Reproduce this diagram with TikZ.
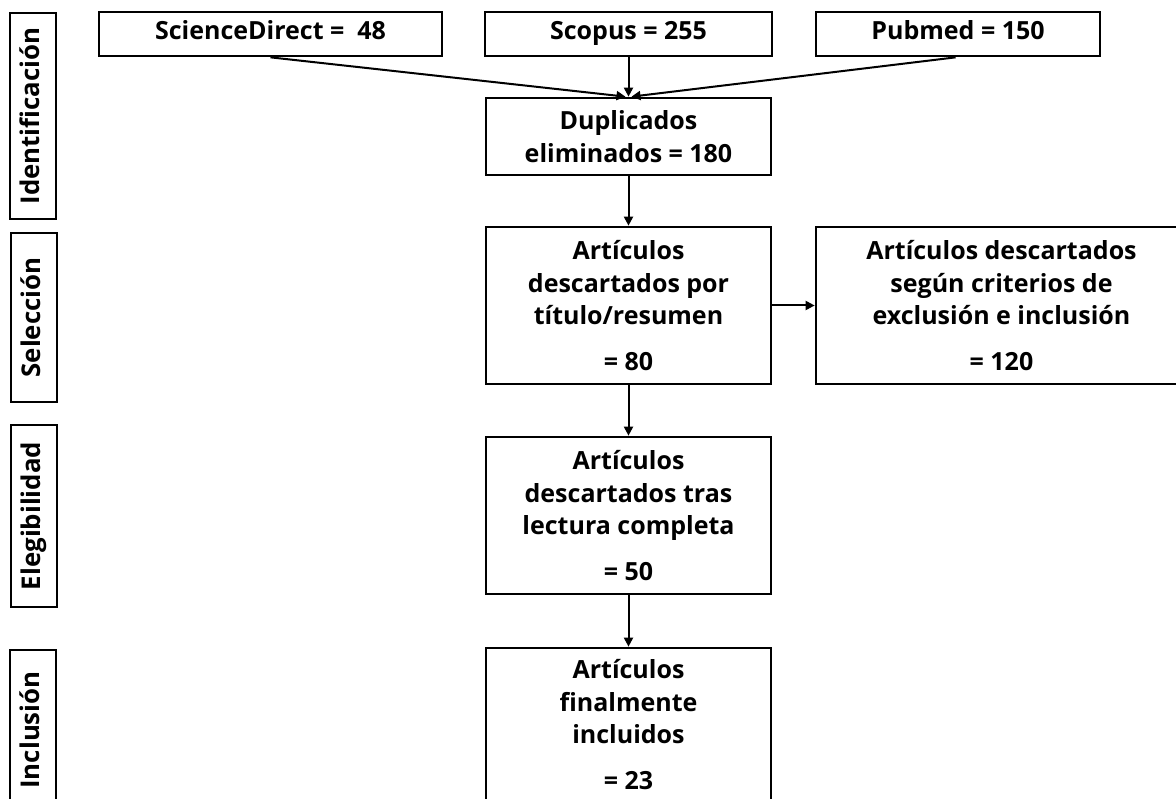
\documentclass[tikz,border=0pt]{standalone}
\usepackage{fontspec}
\setmainfont{Open Sans}
\usetikzlibrary{arrows.meta,calc}
\begin{document}
\begin{tikzpicture}[x=1pt,y=-1pt,
  box/.style={draw,line width=2.7pt,rectangle,inner sep=0pt,align=center,
    font=\bfseries\fontsize{25}{32.5}\selectfont},
  one/.style={text height=17pt,text depth=5pt},
  lab/.style={draw,line width=2.7pt,rectangle,inner sep=0pt,rotate=90,
    minimum height=46pt,text height=17pt,text depth=5pt,
    font=\bfseries\fontsize{25.8}{27}\selectfont},
  conn/.style={line width=2pt,-{Triangle[length=9pt,width=9pt]}}]
\clip (0,0) rectangle (1176,799);
\fill[white] (0,0) rectangle (1176,799);
% stage labels
\node[lab,minimum width=206pt] (l1) at (33,116) {Identificación};
\node[lab,minimum width=169pt] (l2) at (34,317.5) {Selección};
\node[lab,minimum width=182pt] (l3) at (34,516) {Elegibilidad};
\node[lab,minimum width=160pt] (l4) at (33,730) {Inclusión};
% top sources
\node[box,one,minimum width=343pt,minimum height=44pt] (sd) at (270.5,34) {ScienceDirect =\ \ 48};
\node[box,one,minimum width=287pt,minimum height=44pt] (sc) at (628.5,34) {Scopus = 255};
\node[box,one,minimum width=284pt,minimum height=44pt] (pm) at (958,34) {Pubmed = 150};
% main column
\node[box,minimum width=285pt,minimum height=77pt] (dup) at (628.5,136.5) {Duplicados\\eliminados = 180};
\node[box,minimum width=285pt,minimum height=157pt] (sel) at (628.5,305.5) {Artículos\\descartados por\\título/resumen\\[13pt]= 80};
\node[box,minimum width=371pt,minimum height=157pt] (exc) at (1001.5,305.5) {Artículos descartados\\según criterios de\\exclusión e inclusión\\[13pt]= 120};
\node[box,minimum width=285pt,minimum height=157pt] (eli) at (628.5,515.5) {Artículos\\descartados tras\\lectura completa\\[13pt]= 50};
\node[box,minimum width=285pt,minimum height=153pt] (inc) at (628.5,724.5) {Artículos\\finalmente\\incluidos\\[13pt]= 23};
% connectors
\draw[conn] (sc.south) -- (dup.north);
\draw[conn] (sd.south) -- ($(dup.north)+(-3,0)$);
\draw[conn] ($(pm.south west)+(141,0)$) -- ($(dup.north)+(3,0)$);
\draw[conn] (dup.south) -- (sel.north);
\draw[conn] (sel.east) -- (exc.west);
\draw[conn] (sel.south) -- (eli.north);
\draw[conn] (eli.south) -- (inc.north);
\end{tikzpicture}
\end{document}
